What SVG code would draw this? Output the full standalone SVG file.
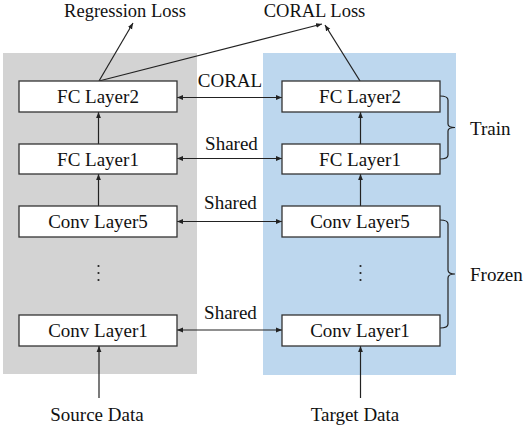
<svg xmlns="http://www.w3.org/2000/svg" width="524" height="426" viewBox="0 0 524 426">
<style>
text{font-family:"Liberation Serif","Times New Roman",serif;font-size:19px;fill:#111}
.box{fill:#fff;stroke:#333;stroke-width:1.3}
.ln{stroke:#222;stroke-width:1.2;fill:none}
.mid{text-anchor:middle}
.top{font-size:18.5px}
</style>
<defs>
<marker id="ah" viewBox="0 0 10 10" refX="10" refY="5" markerWidth="6" markerHeight="6" orient="auto-start-reverse" markerUnits="userSpaceOnUse">
<path d="M0,1 L10,5 L0,9 z" fill="#222"/>
</marker>
</defs>
<rect id="source-panel" x="3" y="53" width="194" height="321" fill="#d3d3d3"/>
<rect id="target-panel" x="263" y="53" width="193" height="322" fill="#bdd7ee"/>

<g id="connectors">
<line class="ln" x1="99" y1="81" x2="133" y2="23" marker-end="url(#ah)"/>
<line class="ln" x1="99" y1="81" x2="322" y2="24" marker-end="url(#ah)"/>
<line class="ln" x1="360" y1="81" x2="325" y2="25" marker-end="url(#ah)"/>
<line class="ln" x1="177" y1="97.5" x2="282" y2="97.5" marker-start="url(#ah)" marker-end="url(#ah)"/>
<line class="ln" x1="177" y1="158.5" x2="282" y2="158.5" marker-start="url(#ah)" marker-end="url(#ah)"/>
<line class="ln" x1="177" y1="221.5" x2="282" y2="221.5" marker-start="url(#ah)" marker-end="url(#ah)"/>
<line class="ln" x1="177" y1="330" x2="282" y2="330" marker-start="url(#ah)" marker-end="url(#ah)"/>
<line class="ln" x1="98.5" y1="144" x2="98.5" y2="112" marker-end="url(#ah)"/>
<line class="ln" x1="98.5" y1="206" x2="98.5" y2="174" marker-end="url(#ah)"/>
<line class="ln" x1="360.5" y1="144" x2="360.5" y2="112" marker-end="url(#ah)"/>
<line class="ln" x1="360.5" y1="206" x2="360.5" y2="174" marker-end="url(#ah)"/>
<line class="ln" x1="99" y1="398" x2="99" y2="346" marker-end="url(#ah)"/>
<line class="ln" x1="360.5" y1="398" x2="360.5" y2="346" marker-end="url(#ah)"/>
<path class="ln" d="M440,96 Q448,96 448,100 V124 Q448,127.5 455,127.5 Q448,127.5 448,131 V155 Q448,159 440,159"/>
<path class="ln" d="M440,220 Q448,220 448,224 V270 Q448,274 455,274 Q448,274 448,278 V324 Q448,328 440,328"/>
</g>

<g id="regression-loss"><text class="mid top" x="125" y="17">Regression Loss</text></g>
<g id="coral-loss"><text class="mid top" x="314.5" y="17">CORAL Loss</text></g>

<g id="src-fc2"><rect class="box" x="19" y="81" width="158" height="31"/><text class="mid" x="98" y="103">FC Layer2</text></g>
<g id="src-fc1"><rect class="box" x="19" y="144" width="158" height="30"/><text class="mid" x="98" y="165.5">FC Layer1</text></g>
<g id="src-conv5"><rect class="box" x="19" y="206" width="158" height="31"/><text class="mid" x="98" y="228">Conv Layer5</text></g>
<g id="src-conv1"><rect class="box" x="19" y="315" width="158" height="31"/><text class="mid" x="98" y="336.5">Conv Layer1</text></g>

<g id="tgt-fc2"><rect class="box" x="282" y="81" width="158" height="31"/><text class="mid" x="360" y="103">FC Layer2</text></g>
<g id="tgt-fc1"><rect class="box" x="282" y="144" width="158" height="30"/><text class="mid" x="360" y="165.5">FC Layer1</text></g>
<g id="tgt-conv5"><rect class="box" x="282" y="206" width="158" height="31"/><text class="mid" x="360" y="228">Conv Layer5</text></g>
<g id="tgt-conv1"><rect class="box" x="282" y="315" width="158" height="31"/><text class="mid" x="360" y="336.5">Conv Layer1</text></g>

<g id="dots" fill="#222">
<circle cx="98.5" cy="266" r="1.1"/><circle cx="98.5" cy="273" r="1.1"/><circle cx="98.5" cy="280" r="1.1"/>
<circle cx="360.5" cy="266" r="1.1"/><circle cx="360.5" cy="273" r="1.1"/><circle cx="360.5" cy="280" r="1.1"/>
</g>

<g id="labels">
<text class="mid" x="230" y="86.5">CORAL</text>
<text class="mid" x="231.5" y="150">Shared</text>
<text class="mid" x="230.5" y="209">Shared</text>
<text class="mid" x="230.5" y="319">Shared</text>
<text x="470" y="135">Train</text>
<text x="470" y="281">Frozen</text>
</g>

<g id="source-data"><text class="mid" x="97" y="421">Source Data</text></g>
<g id="target-data"><text class="mid" x="355" y="421">Target Data</text></g>
</svg>
